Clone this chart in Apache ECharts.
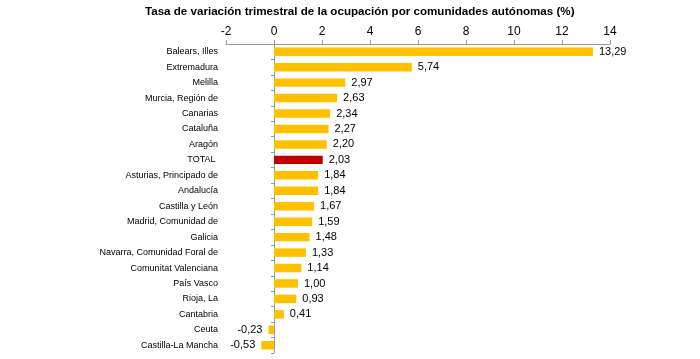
<!DOCTYPE html>
<html><head><meta charset="utf-8">
<script src="https://cdn.jsdelivr.net/npm/echarts@6/dist/echarts.min.js"></script>
<style>html,body{margin:0;padding:0;background:#fff}#c{width:700px;height:359px}</style>
</head><body><div id="c"></div>
<script>
const titleText = 'Tasa de variación trimestral de la ocupación por comunidades autónomas (%)';
const categories = ['Balears, Illes','Extremadura','Melilla','Murcia, Región de','Canarias','Cataluña','Aragón','TOTAL ','Asturias, Principado de','Andalucía','Castilla y León','Madrid, Comunidad de','Galicia','Navarra, Comunidad Foral de','Comunitat Valenciana','País Vasco','Rioja, La','Cantabria','Ceuta','Castilla-La Mancha'];
const values = [13.29,5.74,2.97,2.63,2.34,2.27,2.20,2.03,1.84,1.84,1.67,1.59,1.48,1.33,1.14,1.00,0.93,0.41,-0.23,-0.53];
const highlight = 'TOTAL ';
const xMin = -2, xMax = 14, xStep = 2;

const data = values.map((v,i)=>({
  value: v,
  itemStyle: {color: categories[i]===highlight ? '#C00000' : '#FFC000'},
  label: {position: v<0 ? 'left' : 'right'}
}));

const chart = echarts.init(document.getElementById('c'));
chart.setOption({
  animation:false,
  title:{text:titleText,left:140,top:1,textStyle:{fontFamily:'Liberation Sans',fontSize:11.6,fontWeight:'bold',color:'#000'}},
  grid:{left:226,right:90,top:44,bottom:6},
  xAxis:{type:'value',position:'top',min:xMin,max:xMax,interval:xStep,
    axisLine:{show:true,lineStyle:{color:'#999'}},
    axisTick:{show:true,length:4,lineStyle:{color:'#999'}},
    splitLine:{show:false},
    axisLabel:{fontFamily:'Liberation Sans',fontSize:12,color:'#000',margin:6}},
  yAxis:{type:'category',inverse:true,data:categories,
    axisLine:{show:true,onZero:true,lineStyle:{color:'#999'}},
    axisTick:{show:true,length:3,lineStyle:{color:'#999'}},
    axisLabel:{fontFamily:'Liberation Sans',fontSize:9,color:'#000',margin:8}},
  series:[{type:'bar',data:data,barWidth:'55%',
    label:{show:true,fontFamily:'Liberation Sans',fontSize:11,color:'#000',distance:6,
      formatter:p=>p.value.toFixed(2).replace('.',',')}}]
});
</script></body></html>
